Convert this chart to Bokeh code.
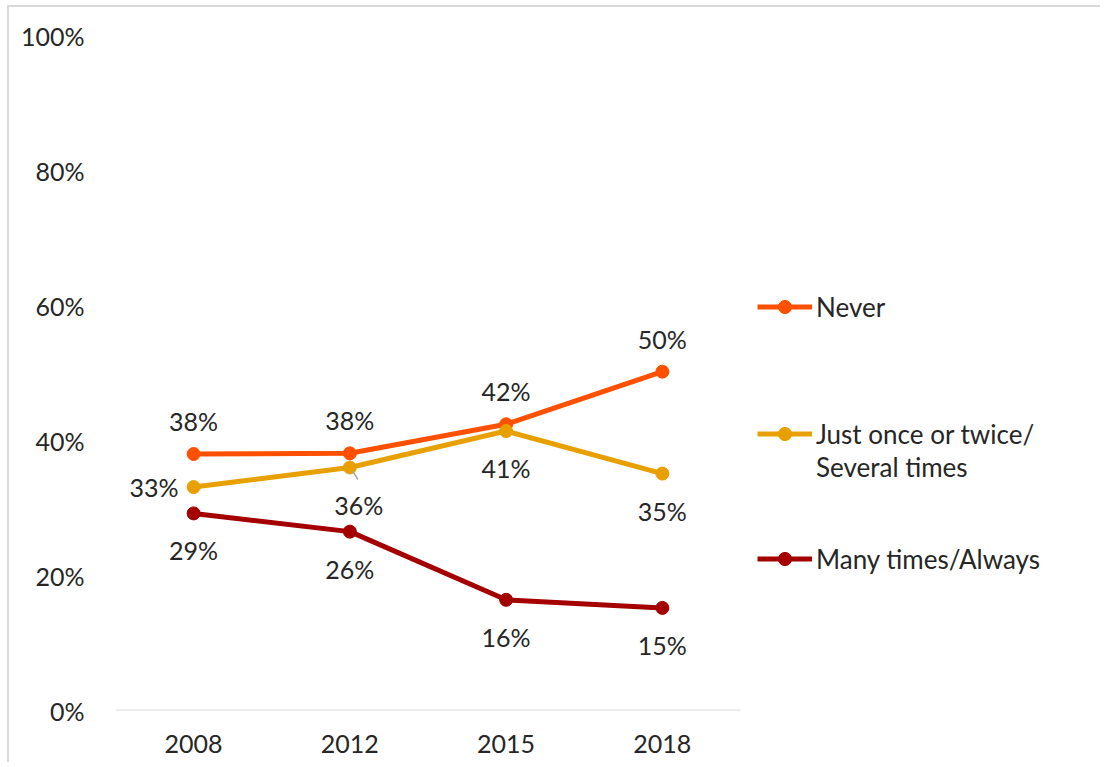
from bokeh.plotting import figure
from bokeh.models import (ColumnDataSource, Range1d, Legend, LegendItem,
                          FixedTicker, CustomJSTickFormatter)
from bokeh.core.properties import value
from bokeh.embed import file_html
from bokeh.resources import INLINE

# ---- data ----
years = ["2008", "2012", "2015", "2018"]
never = [38.0, 38.1, 42.4, 50.2]
once_several = [33.1, 36.0, 41.4, 35.1]
many_always = [29.2, 26.5, 16.4, 15.2]
series_names = ["Never", "Just once or twice/", "Many times/Always"]
series_name_2nd_line = "Several times"
y_ticks = [0, 20, 40, 60, 80, 100]

# ---- style ----
FONT = "Lato"
FS = "25px"
LFS = "26px"
TXT = "#262626"
colors = ["#FF5000", "#E8A000", "#A50000"]
placements = [
    ["above", "above", "above", "above"],
    ["left", "below_right", "below", "below"],
    ["below", "below", "below", "below"],
]
offsets = {
    "above": (0, -33, "center"),
    "below": (0, 37, "center"),
    "below_right": (9, 37, "center"),
    "left": (-15, 0, "right"),
}

W, H = 1100, 762
CAT_W = 156.25          # pixel width of one category slot
FRAME_H = 675
LEFT, TOP = 115, 35
x_idx = list(range(len(years)))
x_end = -0.5 + (W - LEFT) / CAT_W

p = figure(x_range=Range1d(-0.5, x_end), y_range=Range1d(0, 100),
           width=W, height=H, output_backend="svg", toolbar_location=None,
           min_border_left=LEFT, min_border_right=0, min_border_top=TOP,
           min_border_bottom=H - TOP - FRAME_H)
p.styles = {"box-shadow": "inset 7px 5px 0 0 #FFFFFF, inset 9px 7px 0 0 #D9D9D9"}
p.border_fill_color = None
p.outline_line_color = None
p.grid.grid_line_color = None
p.background_fill_color = "white"

p.yaxis.ticker = FixedTicker(ticks=y_ticks)
p.yaxis.formatter = CustomJSTickFormatter(code="return tick.toFixed(0) + '%';")
p.yaxis.axis_line_color = None
p.yaxis.major_tick_line_color = None
p.yaxis.minor_tick_line_color = None
p.yaxis.major_label_standoff = 25
p.xaxis.ticker = FixedTicker(ticks=x_idx)
p.xaxis.major_label_overrides = {i: y for i, y in zip(x_idx, years)}
p.xaxis.axis_line_color = None
p.xaxis.major_tick_line_color = None
p.xaxis.minor_tick_line_color = None
p.xaxis.major_label_standoff = 18
for ax in (p.xaxis, p.yaxis):
    ax.major_label_text_font = FONT
    ax.major_label_text_font_size = FS
    ax.major_label_text_color = TXT

# category axis baseline (spans the category slots only)
p.line(x=[x_idx[0] - 0.5, x_idx[-1] + 0.5], y=[0, 0], line_color="#D9D9D9", line_width=2)

legend_items = []
for vals, name, col, place in zip([never, once_several, many_always], series_names, colors, placements):
    src = ColumnDataSource(dict(x=x_idx, y=vals))
    r1 = p.line("x", "y", source=src, line_color=col, line_width=5)
    r2 = p.scatter("x", "y", source=src, size=13, fill_color=col, line_color=col)
    legend_items.append(LegendItem(label=name, renderers=[r1, r2]))
    for xi, yi, pl in zip(x_idx, vals, place):
        dx, dy, al = offsets[pl]
        p.text(x=[xi], y=[yi], text=[f"{round(yi)}%"], x_offset=dx, y_offset=dy,
               text_align=al, text_baseline="middle", text_font=value(FONT),
               text_font_size=FS, text_color=TXT)
        if pl == "below_right":
            # short leader line from the point toward its displaced label (pixel offsets -> data units)
            px2x = 1.0 / CAT_W
            px2y = 100.0 / FRAME_H
            p.segment(x0=[xi + 3 * px2x], y0=[yi - 4 * px2y],
                      x1=[xi + 8 * px2x], y1=[yi - 12 * px2y],
                      line_color="#A6A6A6", line_width=1.5)

dummy = p.line(x=[], y=[], line_alpha=0)
second_line = LegendItem(label=series_name_2nd_line, renderers=[dummy])

def make_legend(items, loc):
    return Legend(items=items, location=loc, padding=0, margin=0, spacing=0,
                  border_line_color=None, background_fill_alpha=0,
                  glyph_width=55, glyph_height=33, label_height=33,
                  label_standoff=4, label_text_font=FONT, label_text_font_size=LFS,
                  label_text_color=TXT)

p.add_layout(make_legend([legend_items[0]], (642, 387)))
p.add_layout(make_legend([legend_items[1], second_line], (642, 227)))
p.add_layout(make_legend([legend_items[2]], (642, 135)))

open("out.html", "w").write(file_html(p, INLINE))
